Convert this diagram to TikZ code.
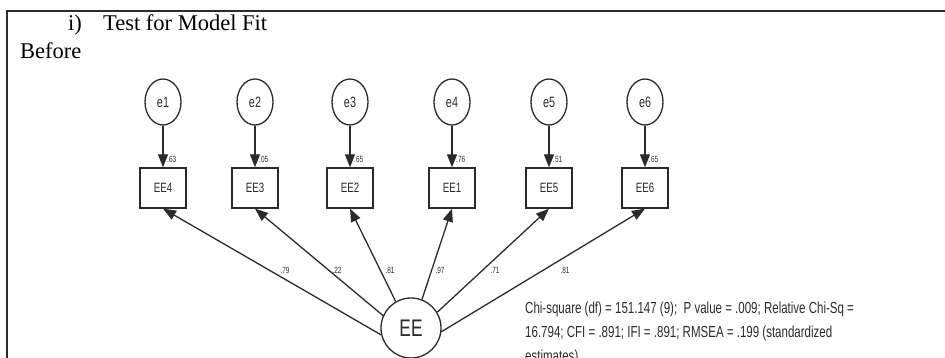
\documentclass[tikz,border=0pt]{standalone}
\usepackage{fontspec}
\setmainfont{Liberation Serif}
\newfontfamily\amos[FakeStretch=0.72]{Liberation Sans}
\usetikzlibrary{shapes.geometric,arrows.meta}
\definecolor{ink}{HTML}{2B2B2B}
\tikzset{
  errnode/.style={ellipse, draw=ink, line width=1.3pt, minimum width=36pt, minimum height=46pt, inner sep=0pt, font=\amos\fontsize{15}{15}\selectfont, text=ink},
  itembox/.style={rectangle, draw=ink, line width=1.3pt, minimum width=46pt, minimum height=40pt, inner sep=0pt, font=\amos\fontsize{13.5}{13.5}\selectfont, text=ink},
  latent/.style={circle, draw=ink, line width=1.3pt, minimum size=60pt, inner sep=0pt, font=\amos\fontsize{24}{24}\selectfont, text=ink},
  path/.style={draw=ink, line width=1.3pt, -{Triangle[length=13pt, width=10pt]}},
  smalllab/.style={inner sep=0pt, font=\amos\fontsize{9}{9}\selectfont, text=ink},
  heading/.style={inner sep=0pt, anchor=base west, font=\fontsize{22.5}{26}\selectfont},
  fitnote/.style={inner sep=0pt, anchor=base west, align=left, font=\amos\fontsize{16}{24}\selectfont, text=ink},
}
\begin{document}
\begin{tikzpicture}[x=1pt, y=-1pt]
\useasboundingbox (0,0) rectangle (945,358);
\clip (0,0) rectangle (945,358);
% frame
\draw[line width=1.8pt, color=ink] (945,11) -- (7,11) -- (7,360);
% headings
\node[heading] (ti) at (68,31) {i)};
\node[heading] (tt) at (103,31) {Test for Model Fit};
\node[heading] (bf) at (20,59) {Before};
% error terms
\foreach \n/\x in {1/163, 2/255, 3/350, 4/452, 5/549, 6/645}
  \node[errnode] (e\n) at (\x,102) {e\n};
% indicators
\node[itembox] (EE4) at (163,188) {EE4};
\node[itembox] (EE3) at (255,188) {EE3};
\node[itembox] (EE2) at (350,188) {EE2};
\node[itembox] (EE1) at (452,188) {EE1};
\node[itembox] (EE5) at (549,188) {EE5};
\node[itembox] (EE6) at (645,188) {EE6};
% latent
\node[latent] (EE) at (411,328) {EE};
% error paths
\draw[path] (e1) -- (EE4);
\draw[path] (e2) -- (EE3);
\draw[path] (e3) -- (EE2);
\draw[path] (e4) -- (EE1);
\draw[path] (e5) -- (EE5);
\draw[path] (e6) -- (EE6);
\node[smalllab, anchor=base west] (l1) at (167,163) {.63};
\node[smalllab, anchor=base west] (l2) at (259,163) {.05};
\node[smalllab, anchor=base west] (l3) at (354,163) {.65};
\node[smalllab, anchor=base west] (l4) at (456,163) {.76};
\node[smalllab, anchor=base west] (l5) at (553,163) {.51};
\node[smalllab, anchor=base west] (l6) at (649,163) {.65};
% loadings
\draw[path] (EE.193) -- (EE4.south);
\draw[path] (EE.156) -- (EE3.south);
\draw[path] (EE.120) -- (EE2.south);
\draw[path] (EE.69) -- (EE1.south);
\draw[path] (EE.31) -- (EE5.south);
\draw[path] (EE.-7) -- (EE6.south);
\node[smalllab] (m1) at (285,270) {.79};
\node[smalllab] (m2) at (337,270) {.22};
\node[smalllab] (m3) at (390,270) {.81};
\node[smalllab] (m4) at (440,270) {.97};
\node[smalllab] (m5) at (495,270) {.71};
\node[smalllab] (m6) at (565,270) {.81};
% fit note (anchored at the baseline of its last line)
\node[fitnote] (fit) at (525,361) {Chi-square (df) = 151.147 (9);\ \ P value = .009; Relative Chi-Sq =\\16.794; CFI = .891; IFI = .891; RMSEA = .199 (standardized\\estimates)};
\end{tikzpicture}
\end{document}
